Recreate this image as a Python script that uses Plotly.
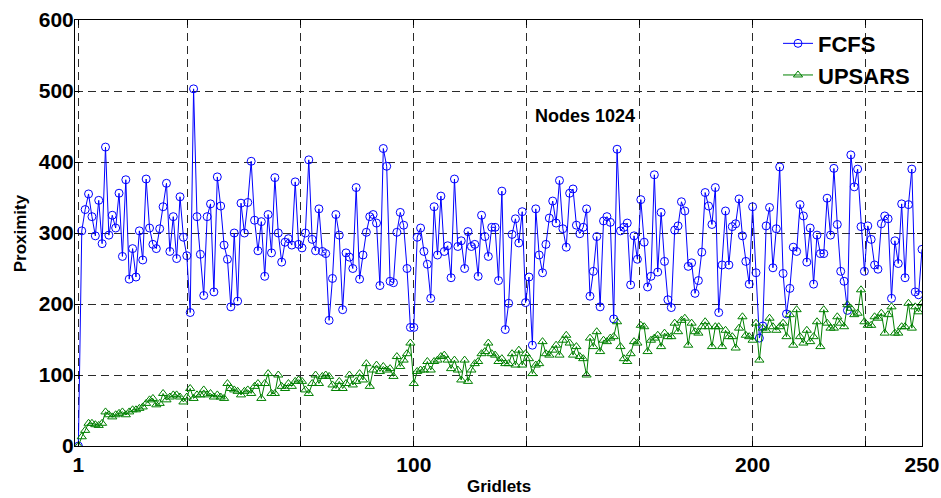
import plotly.graph_objects as go

gridlets = list(range(1, 251))

fcfs = [
    0, 303, 333, 355, 323, 296, 346, 285, 421, 297,
    325, 307, 356, 267, 375, 235, 278, 238, 303, 262,
    376, 307, 284, 278, 306, 337, 370, 274, 323, 264,
    351, 294, 268, 188, 503, 323, 270, 212, 323, 341,
    217, 379, 338, 283, 263, 196, 300, 204, 342, 300,
    343, 401, 318, 275, 316, 239, 326, 272, 378, 300,
    259, 287, 292, 283, 372, 284, 279, 300, 403, 291,
    275, 334, 274, 271, 177, 236, 326, 297, 192, 272,
    266, 250, 364, 235, 269, 301, 323, 326, 314, 226,
    419, 394, 232, 230, 301, 329, 311, 250, 167, 167,
    294, 307, 274, 256, 208, 337, 269, 352, 274, 282,
    237, 376, 281, 289, 250, 302, 281, 284, 239, 325,
    295, 267, 308, 308, 233, 359, 164, 201, 298, 320,
    286, 330, 202, 238, 142, 334, 269, 244, 284, 321,
    345, 314, 374, 306, 280, 356, 362, 311, 299, 308,
    334, 211, 246, 295, 196, 317, 323, 315, 179, 418,
    303, 308, 314, 227, 296, 263, 347, 287, 224, 239,
    382, 245, 329, 260, 206, 195, 304, 310, 344, 331,
    253, 258, 215, 233, 273, 357, 338, 312, 364, 188,
    255, 331, 255, 309, 313, 348, 296, 260, 228, 337,
    244, 152, 169, 310, 336, 251, 306, 393, 243, 186,
    222, 280, 274, 340, 324, 259, 307, 228, 297, 271,
    271, 349, 297, 391, 312, 246, 232, 191, 410, 365,
    390, 309, 246, 310, 291, 255, 249, 313, 324, 320,
    208, 289, 257, 341, 237, 340, 390, 217, 213, 277,
]

upsars = [
    0, 13, 22, 32, 32, 30, 29, 32, 48, 44,
    41, 44, 46, 48, 44, 48, 51, 51, 53, 55,
    60, 65, 67, 58, 60, 74, 65, 69, 72, 72,
    69, 62, 69, 81, 67, 72, 72, 79, 72, 74,
    69, 72, 69, 67, 88, 81, 79, 77, 72, 77,
    79, 74, 84, 88, 67, 88, 102, 74, 74, 100,
    84, 81, 88, 84, 91, 93, 91, 79, 74, 88,
    100, 88, 98, 100, 98, 86, 81, 91, 81, 88,
    100, 86, 91, 102, 93, 116, 84, 107, 114, 105,
    112, 107, 109, 98, 126, 112, 121, 130, 145, 88,
    105, 107, 107, 119, 107, 119, 121, 126, 128, 121,
    109, 121, 107, 93, 121, 91, 107, 116, 119, 130,
    133, 145, 130, 128, 119, 123, 116, 116, 130, 114,
    135, 114, 130, 123, 102, 114, 116, 147, 130, 128,
    135, 142, 128, 149, 156, 145, 128, 140, 126, 123,
    100, 152, 140, 161, 133, 149, 147, 152, 154, 175,
    140, 123, 119, 130, 147, 145, 170, 168, 133, 149,
    152, 156, 140, 159, 154, 154, 173, 161, 177, 180,
    142, 173, 161, 159, 168, 175, 168, 140, 168, 168,
    140, 163, 154, 154, 138, 166, 182, 156, 154, 149,
    173, 121, 166, 163, 180, 168, 163, 168, 173, 154,
    185, 142, 192, 154, 145, 163, 147, 154, 175, 140,
    192, 173, 166, 166, 182, 173, 168, 199, 194, 185,
    187, 220, 175, 170, 170, 182, 180, 187, 159, 185,
    196, 159, 159, 168, 168, 201, 166, 196, 189, 201,
]

x_tickvals = [1, 33.333, 66.667, 100, 133.333, 166.667, 200, 233.333, 250]
x_ticktext = ["1", "", "", "100", "", "", "200", "", "250"]
y_tickvals = [0, 100, 200, 300, 400, 500, 600]

series_names = ["FCFS", "UPSARS"]
annotation_text = "Nodes 1024"
x_title = "Gridlets"
y_title = "Proximity"

FONT = "Liberation Sans, Arial, sans-serif"

fig = go.Figure()
fig.add_trace(go.Scatter(
    x=gridlets, y=fcfs, name=series_names[0], mode="lines+markers",
    line=dict(color="#0000FF", width=1),
    marker=dict(symbol="circle-open", size=8, color="#0000FF", line=dict(width=1)),
))
fig.add_trace(go.Scatter(
    x=gridlets, y=upsars, name=series_names[1], mode="lines+markers",
    line=dict(color="#008000", width=1),
    marker=dict(symbol="triangle-up-open", size=8, color="#008000", line=dict(width=1)),
))

axis_common = dict(
    showline=True, linecolor="black", linewidth=1, mirror="ticks",
    ticks="inside", ticklen=5, tickcolor="black", tickwidth=1,
    showgrid=True, gridcolor="#2a2a2a", gridwidth=1, griddash="8px,5px",
    zeroline=False, automargin=False, ticklabeloverflow="allow",
    tickfont=dict(family=FONT, size=21, color="black", weight="bold"),
)

fig.update_xaxes(range=[0, 250], tickmode="array", tickvals=x_tickvals,
                 ticktext=x_ticktext, **axis_common)
fig.update_yaxes(range=[0, 600], tickmode="array", tickvals=y_tickvals,
                 ticklabelstandoff=-4, **axis_common)

fig.add_annotation(x=150.6, y=465, xref="x", yref="y", text=annotation_text,
                   showarrow=False, font=dict(family=FONT, size=18, color="black", weight="bold"))
fig.add_annotation(x=0.5, y=-0.096, xref="paper", yref="paper", text=x_title,
                   showarrow=False, yanchor="middle",
                   font=dict(family=FONT, size=17, color="black", weight="bold"))
fig.add_annotation(x=-0.0646, y=0.5, xref="paper", yref="paper", text=y_title,
                   showarrow=False, textangle=-90, xanchor="center",
                   font=dict(family=FONT, size=17, color="black", weight="bold"))

fig.update_layout(
    width=941, height=498,
    margin=dict(l=75, r=19, t=20, b=52),
    paper_bgcolor="white", plot_bgcolor="white",
    showlegend=True,
    legend=dict(x=0.830, y=0.994, xanchor="left", yanchor="top",
                bgcolor="rgba(255,255,255,0)", borderwidth=0,
                font=dict(family=FONT, size=22, color="black", weight="bold"),
                tracegroupgap=0, itemwidth=30),
)

fig.write_html(
    "out.html",
    config={"displayModeBar": False},
    post_script="document.body.style.margin='0';document.body.style.overflow='hidden';",
)
